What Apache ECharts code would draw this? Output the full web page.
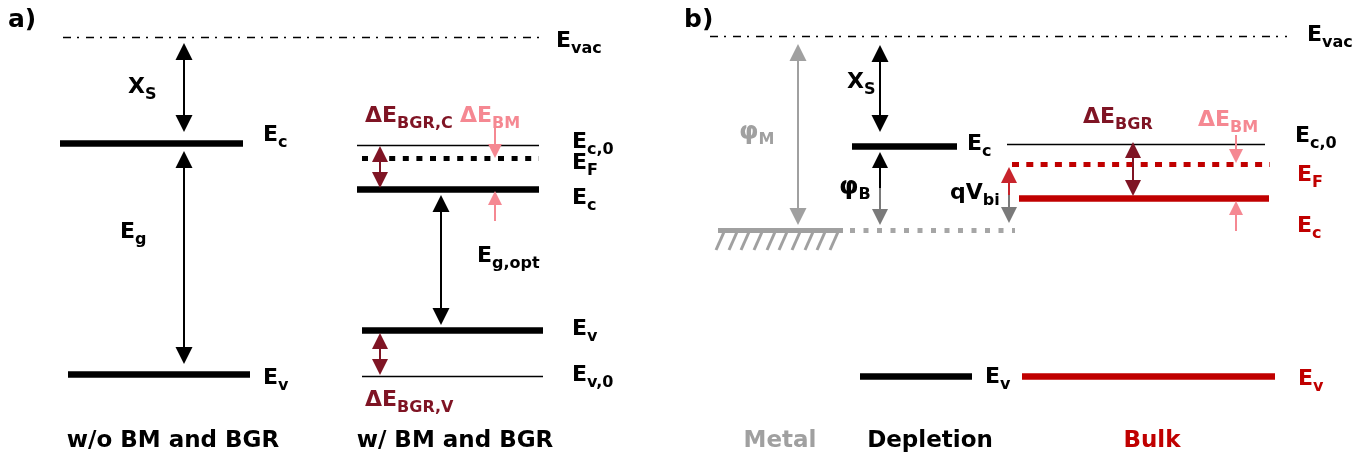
<!DOCTYPE html>
<html><head><meta charset="utf-8">
<script src="https://cdn.jsdelivr.net/npm/echarts@6/dist/echarts.min.js"></script>
<style>html,body{margin:0;padding:0;background:#fff}#c{width:1366px;height:459px}</style>
</head><body><div id="c"></div>
<script>
// ---------- diagram data (x: position along device, y: energy, top = vacuum) ----------
// energy levels: [xStart, xEnd, energy]
const vacuumLevels     = [[63, 540, 37], [710, 1287, 36]];
const thickBlackLevels = [[60, 243, 143.5], [68, 250, 374], [357, 539, 189.5], [362, 543, 330.5], [852, 957, 146], [860, 972, 376]];
const thickRedLevels   = [[1019, 1269, 198], [1022, 1275, 376]];
const thinLevels       = [[357, 539, 145], [362, 543, 376.5], [1007, 1265, 144]];
const fermiBlack       = [[362, 539, 158]];
const fermiRed         = [[1012, 1270, 164]];
const fermiGrey        = [[850, 1015, 230]];
const metalSurface     = [[718, 843, 230]];
const hatchX           = [716, 729, 741, 754, 767, 779, 792, 805, 817, 830];

// arrows: [x, energyTop, energyBottom]
const blackDouble   = [[184, 43, 132], [184, 151, 364], [441, 195, 325], [880, 45, 132]];
const greyDouble    = [[798, 44, 225]];
const darkRedDouble = [[380, 146, 188], [380, 333, 375], [1133, 142, 196]];
// single-headed: [x, energyFrom, energyTip]
const pinkSingle    = [[495, 127, 158], [495, 221, 191], [1236, 135, 163], [1236, 231, 201]];
const blackUp       = [[880, 188, 152]];
const greyDown      = [[880, 188, 225], [1009, 195, 223]];
const redUp         = [[1009, 195, 167]];

// labels: [main, subscript, x, energy]
const blackLabels = [
  ['E', 'vac', 556, 41], ['Χ', 'S', 128, 87], ['E', 'c', 263, 135], ['E', 'g', 120, 232], ['E', 'v', 263, 378],
  ['E', 'c,0', 572, 142], ['E', 'F', 572, 163], ['E', 'c', 572, 198], ['E', 'g,opt', 477, 256],
  ['E', 'v', 572, 329], ['E', 'v,0', 572, 375],
  ['E', 'vac', 1307, 35], ['Χ', 'S', 847, 82], ['E', 'c', 967, 144], ['qV', 'bi', 950, 193],
  ['E', 'c,0', 1295, 136], ['E', 'v', 985, 377]
];
const phiBlackLabels = [['φ', 'B', 839, 187]];
const phiGreyLabels  = [['φ', 'M', 739, 132]];
const redLabels     = [['E', 'F', 1297, 175], ['E', 'c', 1297, 226], ['E', 'v', 1298, 379]];
const darkRedLabels = [['ΔE', 'BGR,C', 365, 116], ['ΔE', 'BGR,V', 365, 400], ['ΔE', 'BGR', 1083, 117]];
const pinkLabels    = [['ΔE', 'BM', 460, 116], ['ΔE', 'BM', 1198, 120]];

// titles: [text, xCenter, energy]
const blackTitles = [['w/o BM and BGR', 173, 441], ['w/ BM and BGR', 455, 441], ['Depletion', 930, 441]];
const greyTitles  = [['Metal', 780, 441]];
const redTitles   = [['Bulk', 1152, 441]];
const panelTags   = [['a)', 8, 20], ['b)', 684, 20]];

// ---------- styles ----------
const FONT = 'DejaVu Sans';
const C = { black: '#000000', grey: '#a0a0a0', greyDark: '#7a7a7a', red: '#c00000', redArrow: '#c8242c',
            darkRed: '#7f1424', pink: '#f58892', dotGrey: '#a6a6a6' };

function levelSeries(list, color, width, type) {
  return { type: 'lines', coordinateSystem: 'cartesian2d', silent: true, animation: false,
    lineStyle: { color, width, type, opacity: 1, cap: 'butt' },
    data: list.map(l => ({ coords: [[l[0], l[2]], [l[1], l[2]]] })) };
}
function arrowSeries(list, color, size, both, width) {
  const h = size / 2;
  return { type: 'lines', coordinateSystem: 'cartesian2d', silent: true, animation: false,
    symbol: both ? ['triangle', 'triangle'] : ['none', 'triangle'], symbolSize: size,
    lineStyle: { color, width: width || 2, opacity: 1, type: 'solid' },
    data: list.map(a => {
      const dir = a[2] > a[1] ? 1 : -1;
      const y0 = both ? a[1] + dir * h : a[1];
      const y1 = a[2] - dir * h;
      return { coords: [[a[0], y0], [a[0], y1]] };
    }) };
}
function labelSeries(list, color, mainSize) {
  const ms = mainSize || 22;
  return { type: 'scatter', silent: true, animation: false, symbolSize: 0,
    itemStyle: { color: 'transparent', opacity: 1 },
    label: { show: true, position: [0, 0], align: 'left', verticalAlign: 'middle', color, opacity: 1,
      formatter: p => '{m|' + p.data.m + '}{s|' + p.data.s + '}',
      rich: {
        m: { fontFamily: FONT, fontSize: ms, fontWeight: 'bold', lineHeight: ms + 2, verticalAlign: 'middle' },
        s: { fontFamily: FONT, fontSize: 16, fontWeight: 'bold', lineHeight: 16, padding: [15, 0, 0, 0], verticalAlign: 'middle' }
      } },
    data: list.map(l => ({ value: [l[2], l[3]], m: l[0], s: l[1] })) };
}
function titleSeries(list, color, size, align) {
  return { type: 'scatter', silent: true, animation: false, symbolSize: 0,
    itemStyle: { color: 'transparent', opacity: 1 },
    label: { show: true, position: [0, 0], align: align || 'center', verticalAlign: 'middle', color, opacity: 1,
      fontFamily: FONT, fontSize: size, fontWeight: 'bold', formatter: p => p.data.t },
    data: list.map(l => ({ value: [l[1], l[2]], t: l[0] })) };
}

const series = [
  levelSeries(vacuumLevels, C.black, 1.4, [8, 6, 2, 7]),
  levelSeries(thickBlackLevels, C.black, 6.5, 'solid'),
  levelSeries(thickRedLevels, C.red, 6.5, 'solid'),
  levelSeries(thinLevels, C.black, 1.4, 'solid'),
  levelSeries(fermiBlack, C.black, 5, [6, 7.6]),
  levelSeries(fermiRed, C.red, 5, [7, 7.3]),
  levelSeries(fermiGrey, C.dotGrey, 5, [5, 8.5]),
  levelSeries(metalSurface, C.grey, 5, 'solid'),
  { type: 'lines', coordinateSystem: 'cartesian2d', silent: true, animation: false,
    lineStyle: { color: C.grey, width: 3, opacity: 1 },
    data: hatchX.map(x => ({ coords: [[x, 250], [x + 8, 232]] })) },
  arrowSeries(blackDouble, C.black, 17, true, 2),
  arrowSeries(greyDouble, C.grey, 17, true, 2),
  arrowSeries(darkRedDouble, C.darkRed, 16, true, 2),
  arrowSeries(pinkSingle, C.pink, 14, false, 2),
  arrowSeries(blackUp, C.black, 16, false, 2),
  arrowSeries(greyDown, C.greyDark, 16, false, 2),
  arrowSeries(redUp, C.redArrow, 16, false, 2),
  labelSeries(blackLabels, C.black),
  labelSeries(phiBlackLabels, C.black, 25),
  labelSeries(phiGreyLabels, C.grey, 25),
  labelSeries(redLabels, C.red),
  labelSeries(darkRedLabels, C.darkRed),
  labelSeries(pinkLabels, C.pink),
  titleSeries(blackTitles, C.black, 23),
  titleSeries(greyTitles, C.grey, 23),
  titleSeries(redTitles, C.red, 23),
  titleSeries(panelTags, C.black, 25, 'left')
];

const chart = echarts.init(document.getElementById('c'), null, { renderer: 'canvas' });
chart.setOption({
  backgroundColor: '#ffffff',
  animation: false,
  grid: { left: 0, right: 0, top: 0, bottom: 0 },
  xAxis: { type: 'value', min: 0, max: 1366, show: false },
  yAxis: { type: 'value', min: 0, max: 459, inverse: true, show: false },
  series
});
</script></body></html>
